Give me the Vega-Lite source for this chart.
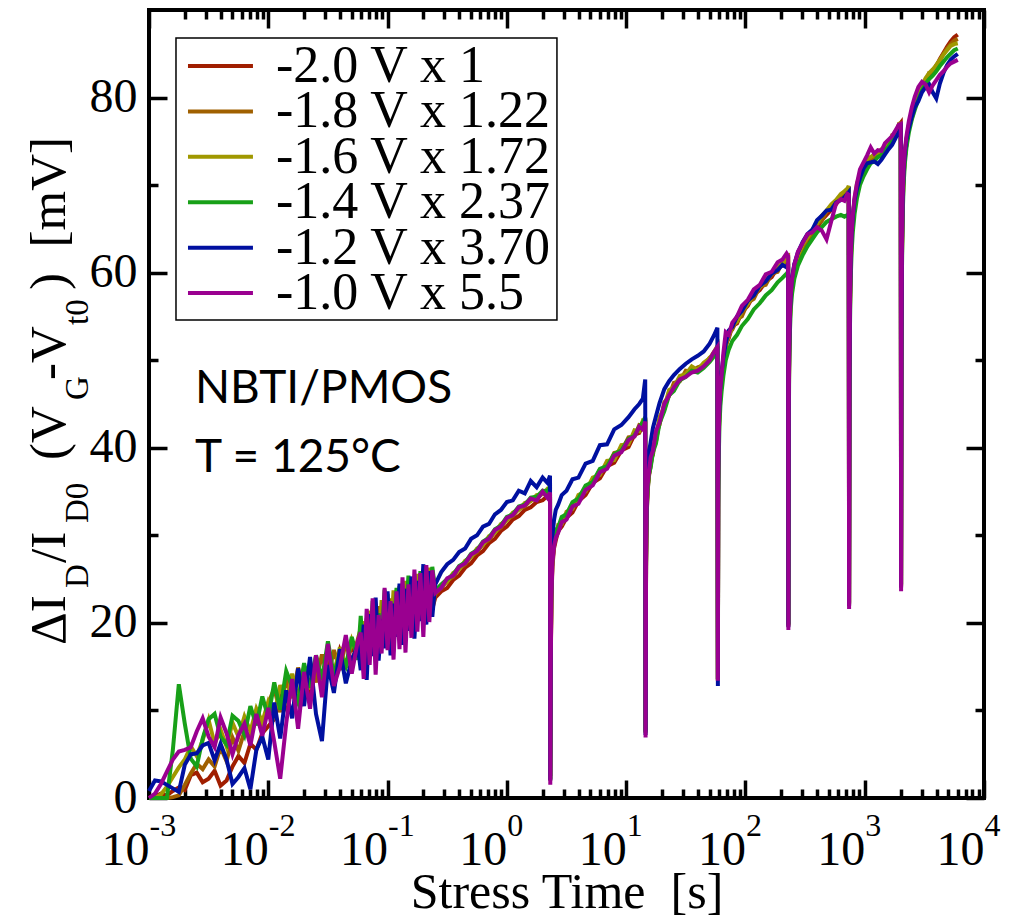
{
"$schema": "https://vega.github.io/schema/vega-lite/v6.json",
"width": 835, "height": 788,
"autosize": {"type": "none"},
"padding": {"left": 149, "top": 10, "right": 50, "bottom": 121},
"background": "white",
"config": {
  "view": {"stroke": "black", "strokeWidth": 4},
  "axis": {"domain": false, "grid": false, "tickColor": "black", "tickWidth": 3.5, "labelColor": "black", "labelFont": "Liberation Serif, Times New Roman, serif", "titleFont": "Liberation Serif, Times New Roman, serif", "titleColor": "black", "zindex": 1, "labelOverlap": false, "labelFlush": false, "labelBound": false},
  "text": {"color": "black"}
},
"resolve": {"scale": {"x": "shared", "y": "shared"}, "axis": {"x": "independent", "y": "independent"}},
"layer": [
{
  "data": {"values": [
{"t":0.001,"a":0.0,"b":0.0,"c":0.0,"d":0.0,"e":0.8,"f":0.0},
{"t":0.001122,"a":0.2,"b":0.0,"c":0.0,"d":0.0,"e":2.0,"f":0.5},
{"t":0.001259,"a":0.5,"b":0.0,"c":0.4,"d":0.0,"e":1.9,"f":1.6},
{"t":0.001413,"a":0.3,"b":0.0,"c":1.3,"d":0.0,"e":1.5,"f":3.0},
{"t":0.001585,"a":0.8,"b":0.1,"c":2.4,"d":5.5,"e":1.1,"f":4.4},
{"t":0.001778,"a":1.2,"b":0.3,"c":3.5,"d":13.0,"e":0.7,"f":5.3},
{"t":0.001995,"a":0.9,"b":1.5,"c":4.4,"d":8.5,"e":3.8,"f":5.5},
{"t":0.002239,"a":2.6,"b":2.8,"c":5.9,"d":4.5,"e":5.0,"f":5.8},
{"t":0.002512,"a":2.9,"b":3.9,"c":4.8,"d":3.6,"e":5.1,"f":7.6},
{"t":0.002818,"a":1.8,"b":3.3,"c":6.6,"d":6.8,"e":6.0,"f":9.1},
{"t":0.003162,"a":2.2,"b":4.4,"c":8.9,"d":9.0,"e":6.3,"f":7.0},
{"t":0.003548,"a":3.1,"b":3.6,"c":6.2,"d":9.6,"e":4.3,"f":5.8},
{"t":0.003981,"a":1.4,"b":5.8,"c":7.8,"d":7.0,"e":6.2,"f":9.2},
{"t":0.004467,"a":2.0,"b":4.2,"c":5.9,"d":6.1,"e":4.4,"f":7.4},
{"t":0.005012,"a":3.6,"b":6.9,"c":8.6,"d":9.4,"e":1.6,"f":5.0},
{"t":0.005623,"a":4.8,"b":5.4,"c":7.0,"d":8.8,"e":2.4,"f":7.2},
{"t":0.00631,"a":4.0,"b":7.6,"c":9.3,"d":7.2,"e":3.4,"f":8.5},
{"t":0.007079,"a":6.2,"b":6.8,"c":7.6,"d":10.5,"e":1.0,"f":6.0},
{"t":0.007943,"a":5.5,"b":9.4,"c":10.2,"d":8.3,"e":5.5,"f":9.6},
{"t":0.008913,"a":7.4,"b":8.0,"c":8.7,"d":11.6,"e":7.0,"f":7.1},
{"t":0.01,"a":8.2,"b":10.8,"c":11.0,"d":9.2,"e":4.4,"f":10.3},
{"t":0.01122,"a":9.0,"b":12.5,"c":9.5,"d":13.2,"e":10.9,"f":6.4},
{"t":0.01259,"a":12.1,"b":9.8,"c":12.9,"d":10.1,"e":6.8,"f":2.2},
{"t":0.01413,"a":10.3,"b":13.6,"c":10.6,"d":14.5,"e":12.3,"f":8.5},
{"t":0.01585,"a":13.0,"b":11.4,"c":14.2,"d":12.7,"e":9.1,"f":13.6},
{"t":0.01778,"a":11.2,"b":14.9,"c":11.3,"d":10.9,"e":14.8,"f":7.9},
{"t":0.01995,"a":14.1,"b":12.0,"c":15.0,"d":15.4,"e":10.5,"f":14.4},
{"t":0.02239,"a":12.0,"b":15.5,"c":12.4,"d":12.6,"e":16.1,"f":10.2},
{"t":0.02512,"a":15.2,"b":13.2,"c":16.1,"d":16.3,"e":9.6,"f":16.3},
{"t":0.02818,"a":13.1,"b":16.4,"c":13.0,"d":13.5,"e":6.5,"f":11.5},
{"t":0.03162,"a":15.8,"b":13.8,"c":16.8,"d":17.9,"e":15.2,"f":17.6},
{"t":0.03548,"a":14.0,"b":16.9,"c":14.1,"d":14.0,"e":12.0,"f":12.8},
{"t":0.03981,"a":16.9,"b":14.6,"c":17.2,"d":16.5,"e":17.0,"f":15.0},
{"t":0.04467,"a":15.2,"b":17.8,"c":14.9,"d":15.1,"e":13.1,"f":18.6},
{"t":0.05012,"a":17.4,"b":15.3,"c":18.0,"d":18.4,"e":15.8,"f":14.2},
{"t":0.05623,"a":16.0,"b":18.1,"c":16.1,"d":15.8,"e":17.4,"f":17.9},
{"t":0.05957,"a":15.8,"b":19.4,"c":16.1,"d":20.8,"e":14.6,"f":18.9},
{"t":0.0631,"a":19.0,"b":16.0,"c":20.2,"d":15.4,"e":19.8,"f":13.6},
{"t":0.06683,"a":16.4,"b":20.5,"c":15.9,"d":19.9,"e":13.5,"f":21.6},
{"t":0.07079,"a":20.1,"b":16.8,"c":21.4,"d":17.2,"e":21.0,"f":15.2},
{"t":0.07499,"a":17.0,"b":21.2,"c":16.5,"d":22.5,"e":16.2,"f":22.8},
{"t":0.07943,"a":20.6,"b":17.4,"c":22.0,"d":16.6,"e":22.9,"f":14.1},
{"t":0.08414,"a":17.9,"b":21.9,"c":17.2,"d":21.1,"e":15.7,"f":20.9},
{"t":0.08913,"a":21.0,"b":17.6,"c":22.6,"d":18.4,"e":20.4,"f":16.5},
{"t":0.09441,"a":18.2,"b":22.3,"c":17.8,"d":23.8,"e":17.1,"f":24.0},
{"t":0.1,"a":21.8,"b":18.5,"c":23.3,"d":17.3,"e":23.6,"f":16.9},
{"t":0.1059,"a":18.6,"b":22.8,"c":18.1,"d":22.4,"e":16.3,"f":22.5},
{"t":0.1122,"a":22.0,"b":18.9,"c":23.7,"d":19.2,"e":22.2,"f":15.8},
{"t":0.1189,"a":19.1,"b":23.4,"c":18.8,"d":24.0,"e":18.4,"f":23.6},
{"t":0.1259,"a":22.7,"b":19.4,"c":24.2,"d":18.5,"e":24.5,"f":17.0},
{"t":0.1334,"a":19.4,"b":23.9,"c":19.0,"d":23.1,"e":17.5,"f":25.2},
{"t":0.1413,"a":23.1,"b":19.6,"c":24.8,"d":19.8,"e":23.9,"f":16.6},
{"t":0.1496,"a":20.0,"b":24.3,"c":19.6,"d":25.4,"e":19.1,"f":24.4},
{"t":0.1585,"a":23.4,"b":20.1,"c":25.1,"d":19.3,"e":25.3,"f":18.3},
{"t":0.1679,"a":20.3,"b":24.6,"c":20.1,"d":24.6,"e":18.2,"f":26.1},
{"t":0.1778,"a":23.9,"b":20.4,"c":25.6,"d":20.6,"e":24.8,"f":19.0},
{"t":0.1884,"a":20.6,"b":25.2,"c":20.5,"d":25.9,"e":20.2,"f":25.7},
{"t":0.1995,"a":24.2,"b":21.0,"c":25.9,"d":20.4,"e":26.7,"f":18.4},
{"t":0.2113,"a":21.3,"b":25.3,"c":21.2,"d":25.0,"e":19.8,"f":26.6},
{"t":0.2239,"a":24.5,"b":21.5,"c":26.3,"d":21.9,"e":25.9,"f":20.1},
{"t":0.2371,"a":21.6,"b":25.8,"c":21.7,"d":26.4,"e":20.7,"f":26.0},
{"t":0.2512,"a":22.9,"b":23.3,"c":23.6,"d":23.7,"e":24.4,"f":23.4},
{"t":0.2818,"a":23.6,"b":24.0,"c":24.3,"d":24.4,"e":25.8,"f":24.0},
{"t":0.3162,"a":24.0,"b":24.8,"c":24.7,"d":25.0,"e":26.7,"f":25.1},
{"t":0.3548,"a":24.9,"b":25.3,"c":25.7,"d":25.5,"e":27.2,"f":25.4},
{"t":0.3981,"a":25.4,"b":26.2,"c":26.1,"d":26.5,"e":28.1,"f":26.4},
{"t":0.4467,"a":26.3,"b":26.7,"c":27.1,"d":26.9,"e":28.5,"f":26.8},
{"t":0.5012,"a":26.8,"b":27.6,"c":27.5,"d":27.9,"e":29.6,"f":27.8},
{"t":0.5623,"a":27.7,"b":28.1,"c":28.5,"d":28.3,"e":30.0,"f":28.2},
{"t":0.631,"a":28.2,"b":29.0,"c":28.9,"d":29.3,"e":31.0,"f":29.2},
{"t":0.7079,"a":29.1,"b":29.5,"c":29.9,"d":29.7,"e":31.3,"f":29.6},
{"t":0.7943,"a":29.6,"b":30.4,"c":30.3,"d":30.7,"e":32.4,"f":30.6},
{"t":0.8913,"a":30.5,"b":30.9,"c":31.3,"d":31.1,"e":32.9,"f":31.0},
{"t":1.0,"a":31.0,"b":31.8,"c":31.7,"d":32.1,"e":33.8,"f":32.0},
{"t":1.122,"a":31.8,"b":32.2,"c":32.6,"d":32.4,"e":34.0,"f":32.3},
{"t":1.259,"a":32.2,"b":33.0,"c":32.9,"d":33.3,"e":35.1,"f":33.2},
{"t":1.413,"a":32.9,"b":33.3,"c":33.7,"d":33.5,"e":34.8,"f":33.4},
{"t":1.585,"a":33.2,"b":34.0,"c":33.9,"d":34.3,"e":36.2,"f":34.2},
{"t":1.778,"a":33.8,"b":34.2,"c":34.6,"d":34.4,"e":35.5,"f":34.0},
{"t":1.995,"a":34.0,"b":34.8,"c":34.7,"d":35.1,"e":36.6,"f":35.0},
{"t":2.188,"a":34.5,"b":34.9,"c":35.3,"d":35.0,"e":36.0,"f":34.3},
{"t":2.301,"a":34.6,"b":35.2,"c":35.1,"d":35.6,"e":36.8,"f":34.9},
{"t":2.312,"a":2.5,"b":2.2,"c":2.0,"d":2.1,"e":2.0,"f":1.5},
{"t":2.333,"a":15.0,"b":15.8,"c":16.4,"d":16.9,"e":19.5,"f":15.5},
{"t":2.366,"a":22.8,"b":23.4,"c":23.9,"d":24.5,"e":26.8,"f":23.2},
{"t":2.41,"a":26.4,"b":27.1,"c":27.3,"d":27.8,"e":30.0,"f":26.9},
{"t":2.483,"a":28.5,"b":28.8,"c":29.4,"d":29.1,"e":31.7,"f":28.7},
{"t":2.57,"a":29.4,"b":30.2,"c":29.8,"d":30.6,"e":32.9,"f":29.7},
{"t":2.692,"a":30.5,"b":30.4,"c":31.2,"d":30.9,"e":33.5,"f":30.3},
{"t":2.884,"a":31.0,"b":31.7,"c":31.3,"d":32.1,"e":34.6,"f":31.5},
{"t":3.162,"a":32.0,"b":31.9,"c":32.7,"d":32.4,"e":35.1,"f":31.8},
{"t":3.548,"a":32.6,"b":33.5,"c":33.0,"d":33.8,"e":36.4,"f":33.3},
{"t":3.981,"a":33.9,"b":33.8,"c":34.6,"d":34.2,"e":36.6,"f":33.6},
{"t":4.571,"a":34.6,"b":35.4,"c":35.0,"d":35.7,"e":38.2,"f":35.2},
{"t":5.248,"a":36.0,"b":35.9,"c":36.6,"d":36.1,"e":38.5,"f":35.7},
{"t":6.026,"a":36.5,"b":37.5,"c":36.9,"d":37.6,"e":40.3,"f":37.2},
{"t":6.918,"a":37.9,"b":37.8,"c":38.5,"d":37.9,"e":40.4,"f":37.6},
{"t":7.943,"a":38.3,"b":39.4,"c":38.6,"d":39.3,"e":42.1,"f":39.1},
{"t":9.12,"a":39.7,"b":39.6,"c":40.3,"d":39.7,"e":42.6,"f":39.5},
{"t":10.47,"a":40.1,"b":41.2,"c":40.4,"d":41.0,"e":43.5,"f":40.9},
{"t":11.75,"a":41.5,"b":41.3,"c":42.0,"d":41.4,"e":44.4,"f":41.3},
{"t":12.88,"a":41.7,"b":42.6,"c":41.9,"d":42.4,"e":45.0,"f":42.4},
{"t":13.8,"a":42.6,"b":42.5,"c":43.1,"d":42.9,"e":45.6,"f":42.1},
{"t":14.45,"a":42.8,"b":43.4,"c":43.0,"d":43.5,"e":47.8,"f":43.0},
{"t":14.55,"a":7.8,"b":7.5,"c":7.4,"d":7.6,"e":7.2,"f":6.9},
{"t":14.69,"a":26.0,"b":26.8,"c":27.5,"d":26.4,"e":29.5,"f":27.0},
{"t":14.86,"a":32.2,"b":32.8,"c":33.4,"d":32.5,"e":35.2,"f":33.1},
{"t":15.14,"a":34.9,"b":35.6,"c":35.2,"d":35.0,"e":37.6,"f":35.8},
{"t":15.49,"a":36.8,"b":36.5,"c":37.4,"d":36.9,"e":39.4,"f":37.0},
{"t":16.03,"a":37.9,"b":38.6,"c":38.0,"d":37.7,"e":40.6,"f":38.9},
{"t":16.79,"a":39.8,"b":39.2,"c":40.0,"d":39.5,"e":42.3,"f":39.7},
{"t":17.78,"a":40.7,"b":41.6,"c":41.0,"d":40.5,"e":43.6,"f":41.9},
{"t":19.05,"a":43.2,"b":42.6,"c":43.5,"d":42.8,"e":45.1,"f":42.9},
{"t":20.89,"a":44.4,"b":45.2,"c":44.6,"d":44.2,"e":46.7,"f":45.0},
{"t":22.91,"a":46.4,"b":45.9,"c":46.6,"d":46.0,"e":47.6,"f":46.0},
{"t":25.12,"a":46.6,"b":47.4,"c":46.9,"d":46.5,"e":48.3,"f":46.9},
{"t":28.18,"a":48.0,"b":47.6,"c":48.2,"d":47.7,"e":49.0,"f":47.8},
{"t":31.62,"a":48.2,"b":48.8,"c":48.4,"d":48.1,"e":49.6,"f":48.1},
{"t":35.48,"a":49.0,"b":48.7,"c":49.3,"d":48.8,"e":50.1,"f":48.6},
{"t":39.81,"a":48.9,"b":49.2,"c":48.9,"d":48.6,"e":50.5,"f":48.8},
{"t":44.67,"a":49.5,"b":49.4,"c":49.7,"d":49.1,"e":51.0,"f":49.3},
{"t":50.12,"a":50.1,"b":50.3,"c":50.2,"d":49.8,"e":51.9,"f":50.0},
{"t":54.33,"a":50.9,"b":50.5,"c":50.9,"d":50.4,"e":52.8,"f":50.9},
{"t":58.21,"a":51.2,"b":51.5,"c":51.6,"d":51.1,"e":53.7,"f":51.5},
{"t":58.75,"a":13.6,"b":13.5,"c":13.4,"d":13.6,"e":12.8,"f":13.4},
{"t":59.16,"a":35.2,"b":35.8,"c":36.4,"d":33.0,"e":37.5,"f":36.3},
{"t":59.7,"a":40.3,"b":40.9,"c":41.6,"d":38.5,"e":42.6,"f":41.2},
{"t":60.53,"a":44.0,"b":44.4,"c":45.1,"d":42.4,"e":45.3,"f":44.8},
{"t":61.66,"a":46.1,"b":46.7,"c":46.3,"d":44.8,"e":47.2,"f":46.9},
{"t":63.1,"a":47.9,"b":47.6,"c":48.5,"d":46.4,"e":48.6,"f":48.3},
{"t":65.31,"a":49.5,"b":50.0,"c":49.6,"d":48.2,"e":50.3,"f":50.8},
{"t":68.39,"a":51.8,"b":51.3,"c":52.0,"d":50.0,"e":51.9,"f":53.2},
{"t":72.44,"a":52.5,"b":53.1,"c":52.7,"d":51.2,"e":53.4,"f":52.9},
{"t":77.62,"a":53.9,"b":53.5,"c":54.0,"d":52.2,"e":53.8,"f":54.3},
{"t":85.11,"a":54.2,"b":54.7,"c":54.4,"d":52.9,"e":55.0,"f":55.0},
{"t":93.33,"a":55.5,"b":55.0,"c":55.6,"d":53.9,"e":55.6,"f":56.2},
{"t":104.7,"a":56.2,"b":56.6,"c":56.4,"d":54.7,"e":56.8,"f":56.9},
{"t":117.5,"a":57.5,"b":57.0,"c":57.6,"d":55.8,"e":57.4,"f":58.1},
{"t":131.8,"a":58.0,"b":58.4,"c":58.3,"d":56.5,"e":58.5,"f":58.6},
{"t":147.9,"a":59.0,"b":58.6,"c":59.2,"d":57.4,"e":59.0,"f":59.8},
{"t":166.0,"a":59.5,"b":59.9,"c":59.8,"d":58.0,"e":59.9,"f":60.1},
{"t":186.2,"a":60.6,"b":60.1,"c":60.7,"d":58.9,"e":60.3,"f":61.2},
{"t":204.2,"a":60.8,"b":61.2,"c":61.0,"d":59.4,"e":60.9,"f":61.5},
{"t":221.3,"a":61.5,"b":61.2,"c":61.8,"d":59.9,"e":60.6,"f":62.2},
{"t":228.0,"a":61.6,"b":61.8,"c":61.9,"d":60.1,"e":61.0,"f":61.9},
{"t":229.1,"a":19.8,"b":19.7,"c":19.6,"d":19.9,"e":19.5,"f":19.2},
{"t":230.7,"a":43.2,"b":43.8,"c":44.3,"d":41.5,"e":45.0,"f":44.6},
{"t":232.8,"a":50.4,"b":50.8,"c":51.4,"d":49.0,"e":51.8,"f":51.2},
{"t":236.0,"a":54.5,"b":54.7,"c":55.3,"d":53.2,"e":55.6,"f":55.1},
{"t":239.9,"a":56.8,"b":57.0,"c":57.6,"d":55.8,"e":57.8,"f":57.5},
{"t":245.5,"a":58.6,"b":58.4,"c":59.0,"d":57.5,"e":59.4,"f":59.2},
{"t":257.0,"a":60.2,"b":60.4,"c":60.9,"d":59.3,"e":61.0,"f":60.9},
{"t":275.4,"a":61.5,"b":61.7,"c":62.0,"d":60.8,"e":62.3,"f":62.4},
{"t":302.0,"a":62.9,"b":62.6,"c":63.2,"d":62.0,"e":63.5,"f":63.4},
{"t":331.1,"a":63.6,"b":63.9,"c":64.0,"d":63.0,"e":64.4,"f":64.4},
{"t":363.1,"a":64.5,"b":64.3,"c":64.9,"d":63.8,"e":64.9,"f":64.6},
{"t":398.1,"a":65.1,"b":65.5,"c":65.6,"d":64.6,"e":66.0,"f":65.2},
{"t":436.5,"a":66.0,"b":65.9,"c":66.5,"d":65.2,"e":66.5,"f":64.8},
{"t":478.6,"a":66.6,"b":67.0,"c":67.1,"d":65.8,"e":67.1,"f":63.8},
{"t":524.8,"a":67.2,"b":67.3,"c":67.8,"d":66.1,"e":67.2,"f":65.9},
{"t":575.4,"a":67.8,"b":68.2,"c":68.3,"d":66.4,"e":68.0,"f":67.9},
{"t":631.0,"a":68.6,"b":68.4,"c":69.0,"d":66.6,"e":68.3,"f":68.4},
{"t":676.1,"a":68.9,"b":69.2,"c":69.3,"d":66.4,"e":68.6,"f":68.2},
{"t":716.1,"a":69.3,"b":69.1,"c":69.6,"d":66.6,"e":69.0,"f":69.0},
{"t":734.5,"a":69.4,"b":69.6,"c":69.9,"d":66.7,"e":69.2,"f":68.9},
{"t":739.6,"a":22.2,"b":22.1,"c":22.0,"d":22.3,"e":21.9,"f":21.6},
{"t":744.7,"a":47.0,"b":47.6,"c":48.3,"d":45.2,"e":49.0,"f":48.0},
{"t":751.6,"a":55.2,"b":55.7,"c":56.5,"d":53.5,"e":57.0,"f":56.2},
{"t":762.1,"a":60.5,"b":60.8,"c":61.5,"d":59.0,"e":61.8,"f":61.2},
{"t":776.2,"a":63.6,"b":64.0,"c":64.6,"d":62.3,"e":64.5,"f":64.4},
{"t":794.3,"a":65.8,"b":66.1,"c":66.5,"d":64.6,"e":66.4,"f":66.6},
{"t":822.2,"a":67.8,"b":67.6,"c":68.4,"d":66.7,"e":68.3,"f":68.6},
{"t":861.0,"a":69.4,"b":69.8,"c":70.2,"d":68.5,"e":69.6,"f":70.2},
{"t":912.0,"a":70.6,"b":70.4,"c":71.2,"d":70.0,"e":70.8,"f":71.8},
{"t":977.2,"a":71.7,"b":71.9,"c":72.2,"d":71.0,"e":71.9,"f":72.6},
{"t":1047,"a":72.2,"b":72.3,"c":73.0,"d":71.8,"e":72.5,"f":73.4},
{"t":1122,"a":72.9,"b":73.1,"c":73.2,"d":72.5,"e":72.6,"f":74.3},
{"t":1202,"a":72.9,"b":72.8,"c":73.5,"d":72.7,"e":72.7,"f":73.6},
{"t":1288,"a":73.4,"b":73.6,"c":73.7,"d":73.2,"e":72.4,"f":74.0},
{"t":1380,"a":73.6,"b":73.5,"c":74.1,"d":73.4,"e":72.9,"f":73.9},
{"t":1479,"a":74.3,"b":74.5,"c":74.4,"d":74.0,"e":73.5,"f":74.8},
{"t":1585,"a":74.6,"b":74.4,"c":74.9,"d":74.4,"e":74.1,"f":75.2},
{"t":1698,"a":75.5,"b":75.7,"c":75.5,"d":75.1,"e":74.6,"f":75.6},
{"t":1820,"a":76.0,"b":75.8,"c":76.2,"d":75.8,"e":75.4,"f":76.3},
{"t":1928,"a":76.8,"b":76.9,"c":76.6,"d":76.3,"e":76.0,"f":76.9},
{"t":2005,"a":77.1,"b":76.8,"c":77.2,"d":76.5,"e":76.4,"f":77.0},
{"t":2018,"a":24.3,"b":24.2,"c":24.1,"d":24.4,"e":24.0,"f":23.6},
{"t":2032,"a":51.0,"b":51.6,"c":52.5,"d":49.5,"e":53.0,"f":52.4},
{"t":2051,"a":61.2,"b":61.6,"c":62.5,"d":60.0,"e":63.0,"f":62.6},
{"t":2080,"a":67.4,"b":67.8,"c":68.5,"d":66.4,"e":68.8,"f":68.6},
{"t":2118,"a":70.8,"b":71.1,"c":71.6,"d":70.0,"e":71.8,"f":71.8},
{"t":2168,"a":73.0,"b":73.2,"c":73.7,"d":72.4,"e":73.6,"f":74.0},
{"t":2239,"a":74.8,"b":74.6,"c":75.3,"d":74.3,"e":75.2,"f":75.6},
{"t":2344,"a":76.5,"b":76.8,"c":76.9,"d":76.0,"e":76.5,"f":77.3},
{"t":2483,"a":77.9,"b":77.6,"c":78.3,"d":77.5,"e":77.8,"f":78.9},
{"t":2630,"a":79.0,"b":79.3,"c":79.4,"d":78.6,"e":78.9,"f":80.1},
{"t":2818,"a":80.2,"b":79.9,"c":80.5,"d":79.8,"e":79.6,"f":81.2},
{"t":3020,"a":81.1,"b":81.3,"c":81.4,"d":80.8,"e":80.6,"f":81.8},
{"t":3236,"a":82.0,"b":81.7,"c":82.2,"d":81.6,"e":81.2,"f":81.5},
{"t":3467,"a":82.6,"b":82.8,"c":82.8,"d":82.1,"e":81.5,"f":80.6},
{"t":3715,"a":83.1,"b":82.9,"c":83.2,"d":82.5,"e":80.6,"f":81.4},
{"t":3981,"a":83.6,"b":83.7,"c":83.7,"d":83.0,"e":79.9,"f":82.0},
{"t":4266,"a":84.4,"b":84.2,"c":84.3,"d":83.6,"e":81.6,"f":82.6},
{"t":4571,"a":85.1,"b":85.0,"c":84.9,"d":84.1,"e":82.8,"f":83.0},
{"t":4898,"a":85.8,"b":85.6,"c":85.4,"d":84.6,"e":83.7,"f":83.5},
{"t":5248,"a":86.4,"b":86.1,"c":85.9,"d":85.0,"e":84.3,"f":83.9},
{"t":5623,"a":86.9,"b":86.5,"c":86.1,"d":85.4,"e":84.7,"f":84.1},
{"t":6026,"a":87.2,"b":86.7,"c":86.2,"d":85.6,"e":85.0,"f":84.3}
  ]},
  "transform": [{"fold": ["a", "b", "c", "d", "e", "f"], "as": ["series", "v"]}],
  "mark": {"type": "line", "strokeWidth": 4},
  "encoding": {
    "x": {"field": "t", "type": "quantitative", "scale": {"type": "log", "domain": [0.001, 10000], "nice": false},
      "axis": {"orient": "bottom", "values": [0.001, 0.01, 0.1, 1, 10, 100, 1000, 10000], "ticks": false, "tickSize": 0, "labelExpr": "'10'", "labelFontSize": 48, "labelAlign": "right", "labelDx": 13, "labelBaseline": "alphabetic", "labelPadding": 66, "title": "Stress Time\u00a0 [s]", "titleFontSize": 50, "titleFontWeight": "normal", "titleY": 109, "titleBaseline": "alphabetic"}},
    "y": {"field": "v", "type": "quantitative", "scale": {"domain": [0, 90], "nice": false},
      "axis": {"orient": "left", "values": [0, 20, 40, 60, 80], "ticks": false, "tickSize": 0, "labelFontSize": 48, "labelPadding": 12, "title": null}},
    "color": {"field": "series", "type": "nominal",
      "scale": {"domain": ["a", "b", "c", "d", "e", "f"], "range": ["#A01E00", "#A06000", "#A09800", "#18A018", "#0010A0", "#9A0090"]},
      "legend": null}
  }
},
{
  "data": {"values": [{"t": 1, "v": 1}]},
  "mark": {"type": "point", "opacity": 0},
  "encoding": {
    "x": {"field": "t", "type": "quantitative", "scale": {"type": "log", "domain": [0.001, 10000], "nice": false},
      "axis": {"orient": "bottom", "values": [0.001, 0.01, 0.1, 1, 10, 100, 1000, 10000], "ticks": false, "tickSize": 0, "labelExpr": "'' + round(log(datum.value)/LN10)", "labelFontSize": 32, "labelAlign": "left", "labelDx": 13, "labelBaseline": "alphabetic", "labelPadding": 37, "title": null}},
    "y": {"field": "v", "type": "quantitative", "scale": {"domain": [0, 90], "nice": false},
      "axis": {"orient": "left", "values": [0, 20, 40, 60, 80], "tickSize": -18, "labels": false, "title": null}}
  }
},
{
  "data": {"values": [{"t": 1, "v": 1}]},
  "mark": {"type": "point", "opacity": 0},
  "encoding": {
    "x": {"field": "t", "type": "quantitative", "scale": {"type": "log", "domain": [0.001, 10000], "nice": false},
      "axis": {"orient": "bottom", "values": [0.001, 0.01, 0.1, 1, 10, 100, 1000, 10000], "tickSize": -18, "labels": false, "title": null}},
    "y": {"field": "v", "type": "quantitative", "scale": {"domain": [0, 90], "nice": false},
      "axis": {"orient": "left", "values": [10, 30, 50, 70], "tickSize": -9, "labels": false, "title": null}}
  }
},
{
  "data": {"values": [{"t": 1, "v": 1}]},
  "mark": {"type": "point", "opacity": 0},
  "encoding": {
    "x": {"field": "t", "type": "quantitative", "scale": {"type": "log", "domain": [0.001, 10000], "nice": false},
      "axis": {"orient": "bottom", "values": [0.002,0.003,0.004,0.005,0.006,0.007,0.008,0.009,0.02,0.03,0.04,0.05,0.06,0.07,0.08,0.09,0.2,0.3,0.4,0.5,0.6,0.7,0.8,0.9,2,3,4,5,6,7,8,9,20,30,40,50,60,70,80,90,200,300,400,500,600,700,800,900,2000,3000,4000,5000,6000,7000,8000,9000], "tickSize": -9, "labels": false, "title": null}},
    "y": {"field": "v", "type": "quantitative", "scale": {"domain": [0, 90], "nice": false},
      "axis": {"orient": "right", "values": [0, 20, 40, 60, 80], "tickSize": -18, "labels": false, "title": null}}
  }
},
{
  "data": {"values": [{"t": 1, "v": 1}]},
  "mark": {"type": "point", "opacity": 0},
  "encoding": {
    "x": {"field": "t", "type": "quantitative", "scale": {"type": "log", "domain": [0.001, 10000], "nice": false},
      "axis": {"orient": "top", "values": [0.001, 0.01, 0.1, 1, 10, 100, 1000, 10000], "tickSize": -18, "labels": false, "title": null}},
    "y": {"field": "v", "type": "quantitative", "scale": {"domain": [0, 90], "nice": false},
      "axis": {"orient": "right", "values": [10, 30, 50, 70], "tickSize": -9, "labels": false, "title": null}}
  }
},
{
  "data": {"values": [{"t": 1, "v": 1}]},
  "mark": {"type": "point", "opacity": 0},
  "encoding": {
    "x": {"field": "t", "type": "quantitative", "scale": {"type": "log", "domain": [0.001, 10000], "nice": false},
      "axis": {"orient": "top", "values": [0.002,0.003,0.004,0.005,0.006,0.007,0.008,0.009,0.02,0.03,0.04,0.05,0.06,0.07,0.08,0.09,0.2,0.3,0.4,0.5,0.6,0.7,0.8,0.9,2,3,4,5,6,7,8,9,20,30,40,50,60,70,80,90,200,300,400,500,600,700,800,900,2000,3000,4000,5000,6000,7000,8000,9000], "tickSize": -9, "labels": false, "title": null}},
    "y": {"field": "v", "type": "quantitative", "scale": {"domain": [0, 90], "nice": false}, "axis": null}
  }
},
{
  "data": {"values": [{}]},
  "mark": {"type": "rect", "fill": "white", "stroke": "black", "strokeWidth": 1.5},
  "encoding": {
    "x": {"datum": 0.0016837, "scale": {"type": "log", "domain": [0.001, 10000], "nice": false}, "axis": null},
    "x2": {"datum": 2.63},
    "y": {"datum": 86.8, "scale": {"domain": [0, 90], "nice": false}, "axis": null},
    "y2": {"datum": 54.59}
  }
},
{
  "data": {"values": [{}]},
  "mark": {"type": "rule", "strokeWidth": 4},
  "encoding": {
    "x": {"datum": 0.0021226, "scale": {"type": "log", "domain": [0.001, 10000], "nice": false}, "axis": null},
    "x2": {"datum": 0.007439},
    "y": {"datum": 83.6, "scale": {"domain": [0, 90], "nice": false}, "axis": null},
    "color": {"datum": "a", "scale": {"domain": ["a", "b", "c", "d", "e", "f"], "range": ["#A01E00", "#A06000", "#A09800", "#18A018", "#0010A0", "#9A0090"]}, "legend": null}
  }
},
{
  "data": {"values": [{}]},
  "mark": {"type": "rule", "strokeWidth": 4},
  "encoding": {
    "x": {"datum": 0.0021226, "scale": {"type": "log", "domain": [0.001, 10000], "nice": false}, "axis": null},
    "x2": {"datum": 0.007439},
    "y": {"datum": 78.42, "scale": {"domain": [0, 90], "nice": false}, "axis": null},
    "color": {"datum": "b", "scale": {"domain": ["a", "b", "c", "d", "e", "f"], "range": ["#A01E00", "#A06000", "#A09800", "#18A018", "#0010A0", "#9A0090"]}, "legend": null}
  }
},
{
  "data": {"values": [{}]},
  "mark": {"type": "rule", "strokeWidth": 4},
  "encoding": {
    "x": {"datum": 0.0021226, "scale": {"type": "log", "domain": [0.001, 10000], "nice": false}, "axis": null},
    "x2": {"datum": 0.007439},
    "y": {"datum": 73.23, "scale": {"domain": [0, 90], "nice": false}, "axis": null},
    "color": {"datum": "c", "scale": {"domain": ["a", "b", "c", "d", "e", "f"], "range": ["#A01E00", "#A06000", "#A09800", "#18A018", "#0010A0", "#9A0090"]}, "legend": null}
  }
},
{
  "data": {"values": [{}]},
  "mark": {"type": "rule", "strokeWidth": 4},
  "encoding": {
    "x": {"datum": 0.0021226, "scale": {"type": "log", "domain": [0.001, 10000], "nice": false}, "axis": null},
    "x2": {"datum": 0.007439},
    "y": {"datum": 68.05, "scale": {"domain": [0, 90], "nice": false}, "axis": null},
    "color": {"datum": "d", "scale": {"domain": ["a", "b", "c", "d", "e", "f"], "range": ["#A01E00", "#A06000", "#A09800", "#18A018", "#0010A0", "#9A0090"]}, "legend": null}
  }
},
{
  "data": {"values": [{}]},
  "mark": {"type": "rule", "strokeWidth": 4},
  "encoding": {
    "x": {"datum": 0.0021226, "scale": {"type": "log", "domain": [0.001, 10000], "nice": false}, "axis": null},
    "x2": {"datum": 0.007439},
    "y": {"datum": 62.86, "scale": {"domain": [0, 90], "nice": false}, "axis": null},
    "color": {"datum": "e", "scale": {"domain": ["a", "b", "c", "d", "e", "f"], "range": ["#A01E00", "#A06000", "#A09800", "#18A018", "#0010A0", "#9A0090"]}, "legend": null}
  }
},
{
  "data": {"values": [{}]},
  "mark": {"type": "rule", "strokeWidth": 4},
  "encoding": {
    "x": {"datum": 0.0021226, "scale": {"type": "log", "domain": [0.001, 10000], "nice": false}, "axis": null},
    "x2": {"datum": 0.007439},
    "y": {"datum": 57.68, "scale": {"domain": [0, 90], "nice": false}, "axis": null},
    "color": {"datum": "f", "scale": {"domain": ["a", "b", "c", "d", "e", "f"], "range": ["#A01E00", "#A06000", "#A09800", "#18A018", "#0010A0", "#9A0090"]}, "legend": null}
  }
},
{
  "data": {"values": [{}]},
  "mark": {"type": "text", "text": "-2.0 V x 1", "font": "Liberation Serif, Times New Roman, serif", "fontSize": 52, "align": "left", "baseline": "middle"},
  "encoding": {
    "x": {"datum": 0.0116, "scale": {"type": "log", "domain": [0.001, 10000], "nice": false}, "axis": null},
    "y": {"datum": 83.6, "scale": {"domain": [0, 90], "nice": false}, "axis": null}
  }
},
{
  "data": {"values": [{}]},
  "mark": {"type": "text", "text": "-1.8 V x 1.22", "font": "Liberation Serif, Times New Roman, serif", "fontSize": 52, "align": "left", "baseline": "middle"},
  "encoding": {
    "x": {"datum": 0.0116, "scale": {"type": "log", "domain": [0.001, 10000], "nice": false}, "axis": null},
    "y": {"datum": 78.42, "scale": {"domain": [0, 90], "nice": false}, "axis": null}
  }
},
{
  "data": {"values": [{}]},
  "mark": {"type": "text", "text": "-1.6 V x 1.72", "font": "Liberation Serif, Times New Roman, serif", "fontSize": 52, "align": "left", "baseline": "middle"},
  "encoding": {
    "x": {"datum": 0.0116, "scale": {"type": "log", "domain": [0.001, 10000], "nice": false}, "axis": null},
    "y": {"datum": 73.23, "scale": {"domain": [0, 90], "nice": false}, "axis": null}
  }
},
{
  "data": {"values": [{}]},
  "mark": {"type": "text", "text": "-1.4 V x 2.37", "font": "Liberation Serif, Times New Roman, serif", "fontSize": 52, "align": "left", "baseline": "middle"},
  "encoding": {
    "x": {"datum": 0.0116, "scale": {"type": "log", "domain": [0.001, 10000], "nice": false}, "axis": null},
    "y": {"datum": 68.05, "scale": {"domain": [0, 90], "nice": false}, "axis": null}
  }
},
{
  "data": {"values": [{}]},
  "mark": {"type": "text", "text": "-1.2 V x 3.70", "font": "Liberation Serif, Times New Roman, serif", "fontSize": 52, "align": "left", "baseline": "middle"},
  "encoding": {
    "x": {"datum": 0.0116, "scale": {"type": "log", "domain": [0.001, 10000], "nice": false}, "axis": null},
    "y": {"datum": 62.86, "scale": {"domain": [0, 90], "nice": false}, "axis": null}
  }
},
{
  "data": {"values": [{}]},
  "mark": {"type": "text", "text": "-1.0 V x 5.5", "font": "Liberation Serif, Times New Roman, serif", "fontSize": 52, "align": "left", "baseline": "middle"},
  "encoding": {
    "x": {"datum": 0.0116, "scale": {"type": "log", "domain": [0.001, 10000], "nice": false}, "axis": null},
    "y": {"datum": 57.68, "scale": {"domain": [0, 90], "nice": false}, "axis": null}
  }
},
{
  "data": {"values": [{}]},
  "mark": {"type": "text", "text": "NBTI/PMOS", "font": "Lato", "fontSize": 46, "align": "left", "baseline": "alphabetic"},
  "encoding": {
    "x": {"datum": 0.00243, "scale": {"type": "log", "domain": [0.001, 10000], "nice": false}, "axis": null},
    "y": {"datum": 45.11, "scale": {"domain": [0, 90], "nice": false}, "axis": null}
  }
},
{
  "data": {"values": [{}]},
  "mark": {"type": "text", "text": "T = 125°C", "font": "Lato", "fontSize": 46, "align": "left", "baseline": "alphabetic"},
  "encoding": {
    "x": {"datum": 0.00243, "scale": {"type": "log", "domain": [0.001, 10000], "nice": false}, "axis": null},
    "y": {"datum": 37.23, "scale": {"domain": [0, 90], "nice": false}, "axis": null}
  }
},
{
  "data": {"values": [{}]},
  "mark": {"type": "text", "text": "ΔI", "font": "Liberation Serif, Times New Roman, serif", "fontSize": 51, "angle": 270, "align": "left", "baseline": "alphabetic"},
  "encoding": {
    "x": {"datum": 0.0001977, "scale": {"type": "log", "domain": [0.001, 10000], "nice": false}, "axis": null},
    "y": {"datum": 17.47, "scale": {"domain": [0, 90], "nice": false}, "axis": null}
  }
},
{
  "data": {"values": [{}]},
  "mark": {"type": "text", "text": "D", "font": "Liberation Serif, Times New Roman, serif", "fontSize": 33, "angle": 270, "align": "left", "baseline": "alphabetic"},
  "encoding": {
    "x": {"datum": 0.0003084, "scale": {"type": "log", "domain": [0.001, 10000], "nice": false}, "axis": null},
    "y": {"datum": 23.98, "scale": {"domain": [0, 90], "nice": false}, "axis": null}
  }
},
{
  "data": {"values": [{}]},
  "mark": {"type": "text", "text": "/I", "font": "Liberation Serif, Times New Roman, serif", "fontSize": 51, "angle": 270, "align": "left", "baseline": "alphabetic"},
  "encoding": {
    "x": {"datum": 0.0001977, "scale": {"type": "log", "domain": [0.001, 10000], "nice": false}, "axis": null},
    "y": {"datum": 26.84, "scale": {"domain": [0, 90], "nice": false}, "axis": null}
  }
},
{
  "data": {"values": [{}]},
  "mark": {"type": "text", "text": "D0", "font": "Liberation Serif, Times New Roman, serif", "fontSize": 33, "angle": 270, "align": "left", "baseline": "alphabetic"},
  "encoding": {
    "x": {"datum": 0.0003084, "scale": {"type": "log", "domain": [0.001, 10000], "nice": false}, "axis": null},
    "y": {"datum": 31.41, "scale": {"domain": [0, 90], "nice": false}, "axis": null}
  }
},
{
  "data": {"values": [{}]},
  "mark": {"type": "text", "text": "(V", "font": "Liberation Serif, Times New Roman, serif", "fontSize": 51, "angle": 270, "align": "left", "baseline": "alphabetic"},
  "encoding": {
    "x": {"datum": 0.0001977, "scale": {"type": "log", "domain": [0.001, 10000], "nice": false}, "axis": null},
    "y": {"datum": 38.6, "scale": {"domain": [0, 90], "nice": false}, "axis": null}
  }
},
{
  "data": {"values": [{}]},
  "mark": {"type": "text", "text": "G", "font": "Liberation Serif, Times New Roman, serif", "fontSize": 33, "angle": 270, "align": "left", "baseline": "alphabetic"},
  "encoding": {
    "x": {"datum": 0.0003084, "scale": {"type": "log", "domain": [0.001, 10000], "nice": false}, "axis": null},
    "y": {"datum": 45.46, "scale": {"domain": [0, 90], "nice": false}, "axis": null}
  }
},
{
  "data": {"values": [{}]},
  "mark": {"type": "text", "text": "-V", "font": "Liberation Serif, Times New Roman, serif", "fontSize": 51, "angle": 270, "align": "left", "baseline": "alphabetic"},
  "encoding": {
    "x": {"datum": 0.0001977, "scale": {"type": "log", "domain": [0.001, 10000], "nice": false}, "axis": null},
    "y": {"datum": 47.74, "scale": {"domain": [0, 90], "nice": false}, "axis": null}
  }
},
{
  "data": {"values": [{}]},
  "mark": {"type": "text", "text": "t0", "font": "Liberation Serif, Times New Roman, serif", "fontSize": 33, "angle": 270, "align": "left", "baseline": "alphabetic"},
  "encoding": {
    "x": {"datum": 0.0003084, "scale": {"type": "log", "domain": [0.001, 10000], "nice": false}, "axis": null},
    "y": {"datum": 54.02, "scale": {"domain": [0, 90], "nice": false}, "axis": null}
  }
},
{
  "data": {"values": [{}]},
  "mark": {"type": "text", "text": ")\u00a0 [mV]", "font": "Liberation Serif, Times New Roman, serif", "fontSize": 51, "angle": 270, "align": "left", "baseline": "alphabetic"},
  "encoding": {
    "x": {"datum": 0.0001977, "scale": {"type": "log", "domain": [0.001, 10000], "nice": false}, "axis": null},
    "y": {"datum": 58.02, "scale": {"domain": [0, 90], "nice": false}, "axis": null}
  }
}
]
}
